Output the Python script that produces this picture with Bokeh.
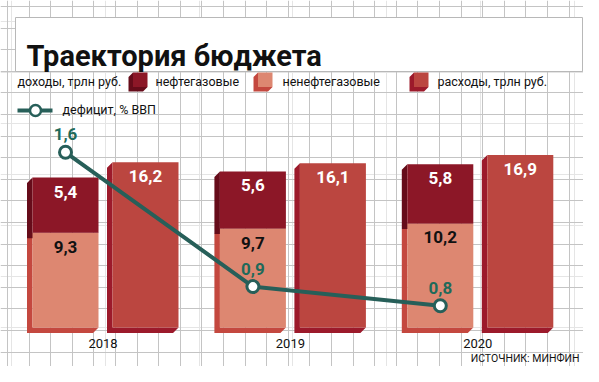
from bokeh.plotting import figure
from bokeh.models import Range1d, FixedTicker, Grid
from bokeh.core.properties import value
from bokeh.embed import file_html
from bokeh.resources import INLINE

# ---------------- data ----------------
years = ["2018", "2019", "2020"]
oil_gas = [5.4, 5.6, 5.8]          # нефтегазовые доходы, трлн руб.
non_oil_gas = [9.3, 9.7, 10.2]     # ненефтегазовые доходы, трлн руб.
expenses = [16.2, 16.1, 16.9]      # расходы, трлн руб.
deficit = [1.6, 0.9, 0.8]          # дефицит, % ВВП

title_text = "Траектория бюджета"
legend_labels = ["доходы, трлн руб.", "нефтегазовые", "ненефтегазовые",
                 "расходы, трлн руб.", "дефицит, % ВВП"]
source_text = "ИСТОЧНИК: МИНФИН"

# ---------------- styling / geometry ----------------
W, H = 583, 366
PXX = 187.4      # px per group step
PXY = 10.2       # px per trillion rubles
X0 = 105.0       # canvas x of first group centre
Y0 = 327.0       # canvas y of zero
OFF = 40.0 / PXX     # half distance between income and expense bars
HALF = 33.0 / PXX    # half bar width
DX = 5.5 / PXX       # 3D depth (x)
DY = 5.5 / PXY       # 3D depth (y)

TXT = "Roboto, 'DejaVu Sans', sans-serif"

C_OIL, C_OIL_SIDE = "#8c1727", "#660c1a"
C_NON, C_NON_SIDE = "#dd8771", "#c4483f"
C_EXP, C_EXP_SIDE = "#bb4640", "#9c1a2b"
C_TEAL = "#275f59"
C_TEAL_TXT = "#1f6a5a"
C_GRID = "#c4c4c4"


def fx(X):
    return (X - X0) / PXX


def fy(Y):
    return (Y0 - Y) / PXY


# deficit secondary scale
DEF_MID_V, DEF_MID_Y, DEF_PX = 1.1, 247.7, 191.8
def_range = Range1d(DEF_MID_V - (H - DEF_MID_Y) / DEF_PX,
                    DEF_MID_V + DEF_MID_Y / DEF_PX)

p = figure(width=W, height=H,
           x_range=Range1d(fx(0), fx(W)),
           y_range=Range1d(fy(H), fy(0)),
           output_backend="svg", toolbar_location=None,
           x_axis_location=None, y_axis_location=None,
           min_border=0, background_fill_color="white",
           border_fill_color="white")
p.outline_line_color = None
p.extra_y_ranges = {"def": def_range}

# grid paper
vt = [fx(7 + 21.6 * k) for k in range(0, 27)] + [fx(582.5)]
ht = [fy(6 + 21.6 * k) for k in range(0, 17)] + [fy(365.5)]
p.add_layout(Grid(dimension=0, ticker=FixedTicker(ticks=vt),
                  grid_line_color=C_GRID, grid_line_width=1))
p.add_layout(Grid(dimension=1, ticker=FixedTicker(ticks=ht),
                  grid_line_color=C_GRID, grid_line_width=1))

# title box
p.quad(left=fx(15), right=fx(582), top=fy(17), bottom=fy(71),
       fill_color="white", line_color="#b8b8b8", line_width=1)
p.text(x=[fx(26)], y=[fy(55)], text=[title_text], text_baseline="alphabetic",
       text_align="left", text_font=value(TXT), text_font_size="29px",
       text_font_style="bold", text_color="#111111")

# ---------------- bars ----------------
inc_x = [i - OFF for i in range(len(years))]
exp_x = [i + OFF for i in range(len(years))]
grp_x = [i - 2.5 / PXX for i in range(len(years))]
income_total = [a + b for a, b in zip(non_oil_gas, oil_gas)]


def side(xc, b, t):
    x0, x1 = xc - HALF, xc + HALF
    return ([x0, x0 - DX, x0 - DX, x1 - DX, x1, x0],
            [t, t - DY, b - DY, b - DY, b, b])


sxs, sys_, scol = [], [], []
for i in range(len(years)):
    for (xc, b, t, c) in [(inc_x[i], 0, non_oil_gas[i], C_NON_SIDE),
                          (inc_x[i], non_oil_gas[i], income_total[i], C_OIL_SIDE),
                          (exp_x[i], 0, expenses[i], C_EXP_SIDE)]:
        xs, ys = side(xc, b, t)
        sxs.append(xs)
        sys_.append(ys)
        scol.append(c)
p.patches(xs=sxs, ys=sys_, fill_color=scol, line_color=None)

p.quad(left=[x - HALF for x in inc_x], right=[x + HALF for x in inc_x],
       bottom=0, top=non_oil_gas, fill_color=C_NON, line_color=None)
p.quad(left=[x - HALF for x in inc_x], right=[x + HALF for x in inc_x],
       bottom=non_oil_gas, top=income_total, fill_color=C_OIL, line_color=None)
p.quad(left=[x - HALF for x in exp_x], right=[x + HALF for x in exp_x],
       bottom=0, top=expenses, fill_color=C_EXP, line_color=None)


def fmt(v):
    return f"{v:.1f}".replace(".", ",")


LAB = 14.0 / PXY
p.text(x=inc_x, y=[t - LAB for t in income_total], text=[fmt(v) for v in oil_gas],
       text_align="center", text_baseline="middle", text_font=value(TXT),
       text_font_size="17px", text_font_style="bold", text_color="white")
p.text(x=inc_x, y=[t - LAB for t in non_oil_gas], text=[fmt(v) for v in non_oil_gas],
       text_align="center", text_baseline="middle", text_font=value(TXT),
       text_font_size="17px", text_font_style="bold", text_color="#111111")
p.text(x=exp_x, y=[t - LAB for t in expenses], text=[fmt(v) for v in expenses],
       text_align="center", text_baseline="middle", text_font=value(TXT),
       text_font_size="17px", text_font_style="bold", text_color="white")

# year labels
p.text(x=grp_x, y=[-16.0 / PXY] * len(years), text=years, text_align="center",
       text_baseline="middle", text_font=value(TXT), text_font_size="13px",
       text_color="#111111")

# ---------------- deficit line ----------------
p.line(x=inc_x, y=deficit, y_range_name="def", line_color=C_TEAL, line_width=4)
p.scatter(x=inc_x, y=deficit, y_range_name="def", size=12, marker="circle",
          fill_color="white", line_color=C_TEAL, line_width=3)
p.text(x=inc_x, y=[d + 18.0 / DEF_PX for d in deficit], y_range_name="def",
       text=[fmt(v) for v in deficit], text_align="center", text_baseline="middle",
       text_font=value(TXT), text_font_size="17px", text_font_style="bold",
       text_color=C_TEAL_TXT)

# ---------------- legend ----------------


def cube(Xl, Yt, front, sidec, s=19.0, d=4.5):
    x0, x1 = fx(Xl + d), fx(Xl + s)
    t, b = fy(Yt), fy(Yt + s - d)
    ddx, ddy = d / PXX, d / PXY
    p.patch([x0, x0 - ddx, x0 - ddx, x1 - ddx, x1, x0],
            [t, t - ddy, b - ddy, b - ddy, b, b], fill_color=sidec, line_color=None)
    p.quad(left=x0, right=x1, top=t, bottom=b, fill_color=front, line_color=None)


cube(128, 72, C_OIL, C_OIL_SIDE)
cube(253, 72, C_NON, C_NON_SIDE)
cube(409, 72, C_EXP, C_EXP_SIDE)

leg_pos = [(17, 81), (155, 81), (282, 81), (437, 81), (62, 109)]
p.text(x=[fx(a) for a, _ in leg_pos], y=[fy(b) for _, b in leg_pos], text=legend_labels,
       text_align="left", text_baseline="middle", text_font=value(TXT),
       text_font_size="12.5px", text_color="#111111")

p.line(x=[fx(17), fx(52)], y=[fy(110), fy(110)], line_color=C_TEAL, line_width=4)
p.scatter(x=[fx(35)], y=[fy(110)], size=11, marker="circle", fill_color="white",
          line_color=C_TEAL, line_width=2.5)

# source
p.text(x=[fx(579)], y=[fy(358)], text=[source_text], text_align="right",
       text_baseline="middle", text_font=value(TXT), text_font_size="10.5px",
       text_color="#111111")

open("out.html", "w").write(file_html(p, INLINE))
